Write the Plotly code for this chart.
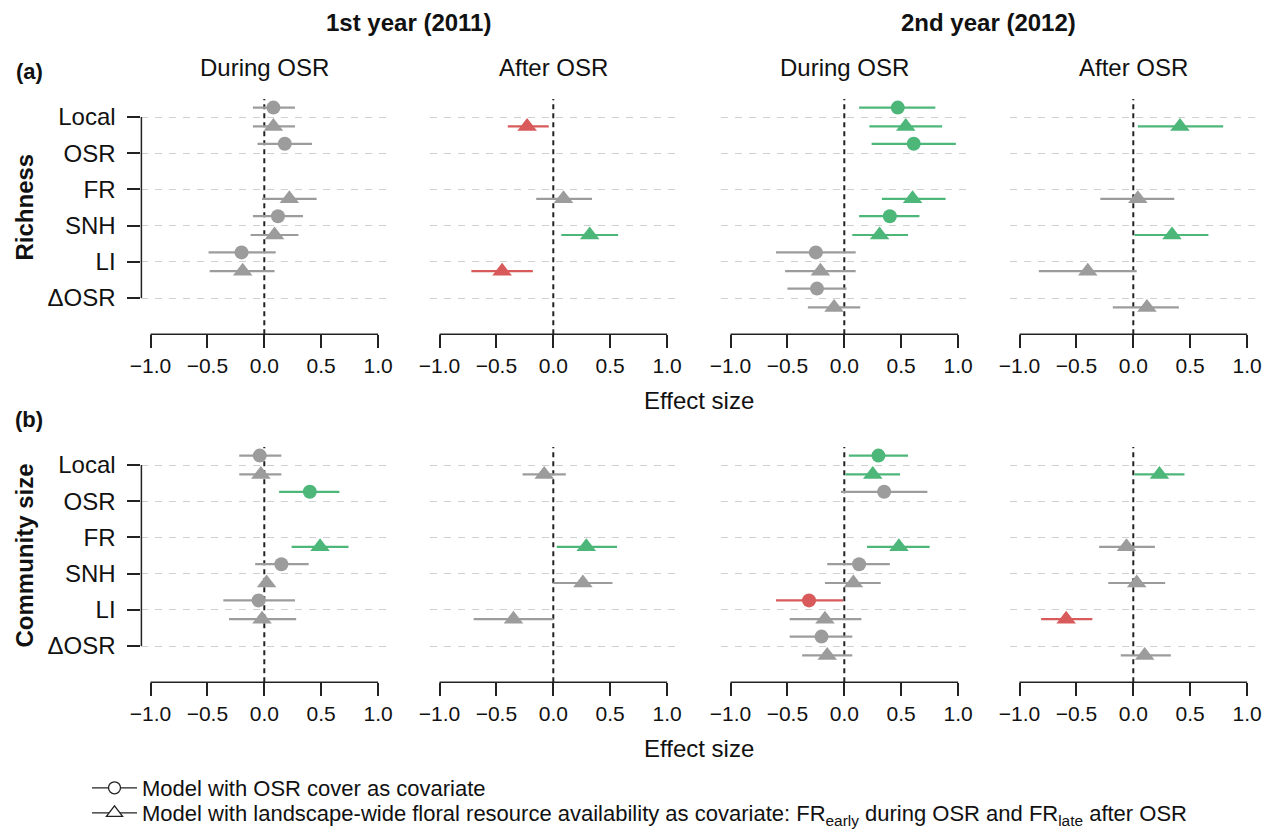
import plotly.graph_objects as go

# ---------------- data ----------------
categories = ["Local", "OSR", "FR", "SNH", "LI", "ΔOSR"]
x_tick_vals = [-1.0, -0.5, 0.0, 0.5, 1.0]
x_tick_text = ["−1.0", "−0.5", "0.0", "0.5", "1.0"]
panel_titles = ["During OSR", "After OSR", "During OSR", "After OSR"]
year_titles = ["1st year (2011)", "2nd year (2012)"]
row_titles = ["Richness", "Community size"]
row_tags = ["(a)", "(b)"]
legend_names = [
    "Model with OSR cover as covariate",
    "Model with landscape-wide floral resource availability as covariate: "
    "FR<sub>early</sub> during OSR and FR<sub>late</sub> after OSR",
]

# each entry: (estimate, lower CI, upper CI, significance) ; sig 0 = n.s., 1 = positive, -1 = negative
# Richness
rich_y1_during_circle = [(0.08, -0.10, 0.27, 0), (0.18, -0.06, 0.42, 0), None,
                         (0.12, -0.10, 0.34, 0), (-0.20, -0.49, 0.10, 0), None]
rich_y1_during_tri = [(0.08, -0.10, 0.27, 0), None, (0.22, -0.02, 0.46, 0),
                      (0.09, -0.12, 0.30, 0), (-0.19, -0.48, 0.09, 0), None]
rich_y1_after_tri = [(-0.23, -0.40, -0.04, -1), None, (0.09, -0.15, 0.34, 0),
                     (0.32, 0.07, 0.57, 1), (-0.45, -0.72, -0.18, -1), None]
rich_y2_during_circle = [(0.47, 0.13, 0.80, 1), (0.61, 0.24, 0.98, 1), None,
                         (0.40, 0.13, 0.66, 1), (-0.25, -0.60, 0.10, 0), (-0.24, -0.50, 0.02, 0)]
rich_y2_during_tri = [(0.54, 0.22, 0.86, 1), None, (0.60, 0.33, 0.89, 1),
                      (0.31, 0.07, 0.56, 1), (-0.21, -0.52, 0.10, 0), (-0.09, -0.32, 0.14, 0)]
rich_y2_after_tri = [(0.41, 0.04, 0.79, 1), None, (0.04, -0.29, 0.36, 0),
                     (0.34, 0.01, 0.66, 1), (-0.40, -0.83, 0.03, 0), (0.12, -0.18, 0.40, 0)]
# Community size
comm_y1_during_circle = [(-0.04, -0.22, 0.15, 0), (0.40, 0.13, 0.66, 1), None,
                         (0.15, -0.08, 0.39, 0), (-0.05, -0.36, 0.27, 0), None]
comm_y1_during_tri = [(-0.03, -0.22, 0.15, 0), None, (0.49, 0.24, 0.74, 1),
                      (0.02, -0.03, 0.07, 0), (-0.02, -0.31, 0.28, 0), None]
comm_y1_after_tri = [(-0.08, -0.27, 0.11, 0), None, (0.29, 0.03, 0.56, 1),
                     (0.26, 0.00, 0.52, 0), (-0.35, -0.70, 0.00, 0), None]
comm_y2_during_circle = [(0.30, 0.04, 0.56, 1), (0.35, -0.03, 0.73, 0), None,
                         (0.13, -0.15, 0.40, 0), (-0.31, -0.60, -0.01, -1), (-0.20, -0.48, 0.07, 0)]
comm_y2_during_tri = [(0.25, 0.01, 0.49, 1), None, (0.48, 0.20, 0.75, 1),
                      (0.08, -0.17, 0.32, 0), (-0.17, -0.48, 0.15, 0), (-0.15, -0.37, 0.07, 0)]
comm_y2_after_tri = [(0.23, 0.01, 0.45, 1), None, (-0.06, -0.30, 0.19, 0),
                     (0.03, -0.22, 0.28, 0), (-0.59, -0.81, -0.36, -1), (0.10, -0.11, 0.33, 0)]

panels = [
    [(rich_y1_during_circle, rich_y1_during_tri), (None, rich_y1_after_tri),
     (rich_y2_during_circle, rich_y2_during_tri), (None, rich_y2_after_tri)],
    [(comm_y1_during_circle, comm_y1_during_tri), (None, comm_y1_after_tri),
     (comm_y2_during_circle, comm_y2_during_tri), (None, comm_y2_after_tri)],
]

# ---------------- style / layout ----------------
W, H = 1276, 830
FONT = "Liberation Sans, Arial, Helvetica, sans-serif"
panel_x_px = [(141.4, 387.2), (430.4, 676.2), (721.4, 967.2), (1010.4, 1256.2)]
row_y_px = [(98.9, 334.2), (446.9, 682.2)]
XR = [-1.08, 1.08]
YR = [7.0, 0.5]
OFF = 0.26
colors = {0: "#9C9C9C", 1: "#4DB77A", -1: "#D95A5A"}
axis_col = "#222222"

fig = go.Figure()
layout = dict(
    width=W, height=H, margin=dict(l=0, r=0, t=0, b=0, autoexpand=False),
    paper_bgcolor="white", plot_bgcolor="white",
    font=dict(family=FONT, color="#111111"),
    showlegend=True,
)
shapes = []
annotations = []

for r in range(2):
    for c in range(4):
        k = r * 4 + c + 1
        xk = "x" if k == 1 else f"x{k}"
        yk = "y" if k == 1 else f"y{k}"
        xa = "xaxis" if k == 1 else f"xaxis{k}"
        ya = "yaxis" if k == 1 else f"yaxis{k}"
        x0, x1 = panel_x_px[c]
        y0, y1 = row_y_px[r]
        layout[xa] = dict(
            domain=[x0 / W, x1 / W], range=XR, anchor=yk, automargin=False,
            tickvals=x_tick_vals, ticktext=x_tick_text,
            ticks="outside", ticklen=13, tickwidth=1.5, tickcolor=axis_col,
            showline=False, showgrid=False, zeroline=False,
            tickfont=dict(size=21, color="#111111"),
        )
        layout[ya] = dict(
            domain=[1 - y1 / H, 1 - y0 / H], range=YR, anchor=xk, automargin=False,
            tickvals=list(range(1, len(categories) + 1)),
            ticktext=categories, showticklabels=(c == 0),
            ticks="outside" if c == 0 else "", ticklen=13, tickwidth=1.5,
            tickcolor=axis_col, tickfont=dict(size=24, color="#111111"),
            ticklabelstandoff=7,
            showgrid=True, gridcolor="#D0D0D0", gridwidth=1.2, griddash="7px,7px",
            zeroline=False, showline=False,
        )
        # zero reference line
        shapes.append(dict(type="line", xref=xk, yref="paper", x0=0, x1=0,
                           y0=1 - y1 / H, y1=1 - y0 / H, layer="below",
                           line=dict(color=axis_col, width=2, dash="5px,4px")))
        # x axis line spanning tick range
        shapes.append(dict(type="line", xref=xk, yref="paper",
                           x0=x_tick_vals[0], x1=x_tick_vals[-1],
                           y0=1 - y1 / H, y1=1 - y1 / H,
                           line=dict(color=axis_col, width=1.5)))
        if c == 0:
            shapes.append(dict(type="line", xref="paper", yref=yk,
                               x0=x0 / W, x1=x0 / W, y0=1, y1=len(categories),
                               line=dict(color=axis_col, width=1.5)))

        circ, tri = panels[r][c]
        for data, symbol, size, off in ((circ, "circle", 14, -OFF), (tri, "triangle-up", 17, OFF)):
            if data is None:
                continue
            for s in (0, 1, -1):
                idx = [i for i, d in enumerate(data) if d is not None and d[3] == s]
                if not idx:
                    continue
                fig.add_trace(go.Scatter(
                    x=[data[i][0] for i in idx],
                    y=[i + 1 + off for i in idx],
                    mode="markers",
                    marker=dict(symbol=symbol, size=size, color=colors[s], line=dict(width=0)),
                    error_x=dict(type="data", symmetric=False,
                                 array=[data[i][2] - data[i][0] for i in idx],
                                 arrayminus=[data[i][0] - data[i][1] for i in idx],
                                 width=0, thickness=2.2, color=colors[s]),
                    xaxis=xk, yaxis=yk, showlegend=False, hoverinfo="skip",
                ))
        # panel titles (top row only)
        if r == 0:
            annotations.append(dict(text=panel_titles[c], xref="paper", yref="paper",
                                    x=(x0 + x1) / 2 / W, y=1 - 68 / H, showarrow=False,
                                    xanchor="center", yanchor="middle",
                                    font=dict(size=24, color="#111111")))

# year titles
for j, t in enumerate(year_titles):
    xc = (panel_x_px[2 * j][0] + panel_x_px[2 * j + 1][1]) / 2
    annotations.append(dict(text=f"<b>{t}</b>", xref="paper", yref="paper",
                            x=xc / W, y=1 - 23 / H, showarrow=False,
                            xanchor="center", yanchor="middle",
                            font=dict(size=24, color="#111111")))

for r in range(2):
    y0, y1 = row_y_px[r]
    cat_mid = y0 + 18.1 + 2.5 * 36.2
    annotations.append(dict(text=f"<b>{row_tags[r]}</b>", xref="paper", yref="paper",
                            x=29 / W, y=1 - (y0 - 27) / H, showarrow=False,
                            xanchor="center", yanchor="middle",
                            font=dict(size=22, color="#111111")))
    annotations.append(dict(text=f"<b>{row_titles[r]}</b>", xref="paper", yref="paper",
                            x=24 / W, y=1 - cat_mid / H, showarrow=False, textangle=-90,
                            xanchor="center", yanchor="middle",
                            font=dict(size=24, color="#111111")))
    annotations.append(dict(text="Effect size", xref="paper", yref="paper",
                            x=699 / W, y=1 - (y1 + 66) / H, showarrow=False,
                            xanchor="center", yanchor="middle",
                            font=dict(size=24, color="#111111")))

# legend entries (one legend box per line so the spacing can match)
fig.add_trace(go.Scatter(x=[None], y=[None], mode="lines+markers", name=legend_names[0],
                         marker=dict(symbol="circle", size=12, color="white",
                                     line=dict(color=axis_col, width=1.3)),
                         line=dict(color=axis_col, width=1.3), hoverinfo="skip",
                         legend="legend"))
fig.add_trace(go.Scatter(x=[None], y=[None], mode="lines+markers", name=legend_names[1],
                         marker=dict(symbol="triangle-up", size=14, color="white",
                                     line=dict(color=axis_col, width=1.3)),
                         line=dict(color=axis_col, width=1.3), hoverinfo="skip",
                         legend="legend2"))

legend_common = dict(x=87 / W, xanchor="left", yanchor="top",
                     font=dict(size=22, color="#111111"), bgcolor="rgba(0,0,0,0)",
                     itemwidth=45, tracegroupgap=0)
layout["legend"] = dict(y=1 - 767 / H, **legend_common)
layout["legend2"] = dict(y=1 - 792 / H, **legend_common)
layout["shapes"] = shapes
layout["annotations"] = annotations
fig.update_layout(**layout)

fig.write_html("out.html", config={"displayModeBar": False},
               post_script="document.body.style.margin='0px';")
